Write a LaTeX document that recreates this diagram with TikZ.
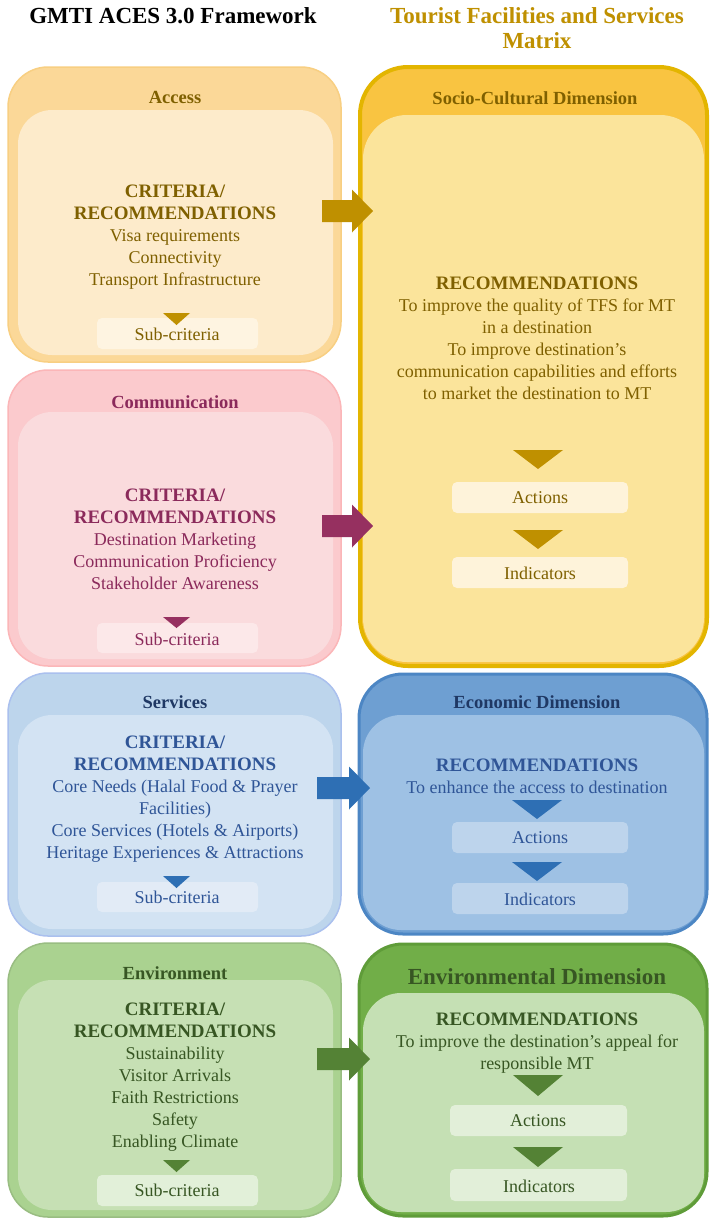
\documentclass[tikz,border=0pt]{standalone}
\usepackage{fontspec}
\setmainfont{Liberation Serif}
\newcommand{\hd}[1]{{\fontsize{19}{22}\selectfont\bfseries #1}}
\begin{document}
\begin{tikzpicture}[x=1pt,y=-1pt,
  lbl/.style={align=center,font=\fontsize{18}{22}\selectfont,inner sep=0pt},
  ttl/.style={font=\bfseries\fontsize{18.5}{20}\selectfont,inner sep=0pt},
  smalltxt/.style={font=\fontsize{18}{20}\selectfont,inner sep=0pt},
  bigradius/.style={rounded corners=40pt},
  midradius/.style={rounded corners=34pt},
  tagbox/.style={rounded corners=5pt}]

% page
\useasboundingbox (0,0) rectangle (710,1221);
\fill[white] (0,0) rectangle (710,1221);

% ---------- colours ----------
\definecolor{accOut}{HTML}{FBD898}
\definecolor{accEdge}{HTML}{F8CF82}
\definecolor{accIn}{HTML}{FDEBCB}
\definecolor{accTag}{HTML}{FEF4E1}
\definecolor{accTxt}{HTML}{7F6000}
\definecolor{gold}{HTML}{BF9000}

\definecolor{comOut}{HTML}{FBCACD}
\definecolor{comIn}{HTML}{FADBDD}
\definecolor{comTag}{HTML}{FCE8E9}
\definecolor{comTxt}{HTML}{8B2A5B}
\definecolor{plum}{HTML}{963060}

\definecolor{srvOut}{HTML}{BDD5EC}
\definecolor{srvIn}{HTML}{D3E3F3}
\definecolor{srvTag}{HTML}{E2EBF6}
\definecolor{srvTxt}{HTML}{2F5597}
\definecolor{srvHead}{HTML}{1F3864}
\definecolor{blueArr}{HTML}{2E6FB4}

\definecolor{envOut}{HTML}{AAD290}
\definecolor{envIn}{HTML}{C6E0B4}
\definecolor{envTag}{HTML}{E2F0D9}
\definecolor{envTxt}{HTML}{375623}
\definecolor{greenArr}{HTML}{548235}

\definecolor{socOut}{HTML}{F9C441}
\definecolor{socEdge}{HTML}{E3B500}
\definecolor{socIn}{HTML}{FBE49B}
\definecolor{socTag}{HTML}{FEF3DA}

\definecolor{ecoOut}{HTML}{6E9FD2}
\definecolor{ecoEdge}{HTML}{4C86C4}
\definecolor{ecoIn}{HTML}{9EC1E4}
\definecolor{ecoTag}{HTML}{BDD4EC}

\definecolor{evdOut}{HTML}{71AE48}
\definecolor{evdEdge}{HTML}{5F9C39}
\definecolor{evdIn}{HTML}{C5E0B4}
\definecolor{evdTag}{HTML}{E2EFD9}

% column headings
\node[font=\bfseries\fontsize{23}{25}\selectfont,inner sep=0pt] (hleft) at (173,16) {GMTI ACES 3.0 Framework};
\node[font=\bfseries\fontsize{23}{25}\selectfont,align=center,inner sep=0pt,text=gold] (hright) at (537,28) {Tourist Facilities and Services\\Matrix};

% ========== left column ==========
% Access
\filldraw[fill=accOut,draw=accEdge,line width=1.5pt,bigradius] (8,67) rectangle (341,362);
\fill[accIn,midradius] (18,110) rectangle (333,355);
\node[ttl,text=accTxt] (acct) at (175,97) {Access};
\node[lbl,text=accTxt] (accl) at (175,237) {\hd{CRITERIA/}\\\hd{RECOMMENDATIONS}\\Visa requirements\\Connectivity\\Transport Infrastructure};
\fill[accTag,tagbox] (97,318) rectangle (258,349);
\node[smalltxt,text=accTxt] (accs) at (177,334) {Sub-criteria};
\fill[gold] (163,313) -- (190,313) -- (176.5,325) -- cycle;

% Communication
\filldraw[fill=comOut,draw=comOut!90!red,line width=1.5pt,bigradius] (8,370) rectangle (341,666);
\fill[comIn,midradius] (18,412) rectangle (333,659);
\node[ttl,text=comTxt] (comt) at (175,402) {Communication};
\node[lbl,text=comTxt] (coml) at (175,539) {\hd{CRITERIA/}\\\hd{RECOMMENDATIONS}\\Destination Marketing\\Communication Proficiency\\Stakeholder Awareness};
\fill[comTag,tagbox] (97,623) rectangle (258,653);
\node[smalltxt,text=comTxt] (coms) at (177,639) {Sub-criteria};
\fill[plum] (163,617) -- (190,617) -- (176.5,628) -- cycle;

% Services
\filldraw[fill=srvOut,draw=srvOut!90!blue,line width=1.5pt,bigradius] (8,673) rectangle (341,936);
\fill[srvIn,midradius] (18,715) rectangle (333,929);
\node[ttl,text=srvHead] (srvt) at (175,702) {Services};
\node[lbl,text=srvTxt] (srvl) at (175,799) {\hd{CRITERIA/}\\\hd{RECOMMENDATIONS}\\Core Needs (Halal Food \& Prayer\\Facilities)\\Core Services (Hotels \& Airports)\\Heritage Experiences \& Attractions};
\fill[srvTag,tagbox] (97,882) rectangle (258,912);
\node[smalltxt,text=srvTxt] (srvs) at (177,897) {Sub-criteria};
\fill[blueArr] (163,876) -- (190,876) -- (176.5,888) -- cycle;

% Environment
\filldraw[fill=envOut,draw=envOut!90!black,line width=1.5pt,bigradius] (8,943) rectangle (341,1217);
\fill[envIn,midradius] (18,980) rectangle (333,1210);
\node[ttl,text=envTxt] (envt) at (175,973) {Environment};
\node[lbl,text=envTxt] (envl) at (175,1077) {\hd{CRITERIA/}\\\hd{RECOMMENDATIONS}\\Sustainability\\Visitor Arrivals\\Faith Restrictions\\Safety\\Enabling Climate};
\fill[envTag,tagbox] (97,1175) rectangle (258,1206);
\node[smalltxt,text=envTxt] (envs) at (177,1190) {Sub-criteria};
\fill[greenArr] (163,1160) -- (190,1160) -- (176.5,1172) -- cycle;

% ========== right column ==========
% Socio-Cultural Dimension
\filldraw[fill=socOut,draw=socEdge,line width=4pt,rounded corners=48pt] (360,67) rectangle (707,666);
\fill[socIn,rounded corners=44pt] (363,115) rectangle (704,662);
\node[ttl,text=accTxt] (soct) at (535,98) {Socio-Cultural Dimension};
\node[lbl,text=accTxt] (socl) at (537,338) {\hd{RECOMMENDATIONS}\\To improve the quality of TFS for MT\\in a destination\\To improve destination's\\communication capabilities and efforts\\to market the destination to MT};
\fill[socTag,tagbox] (452,482) rectangle (628,513);
\node[smalltxt,text=accTxt] (soca) at (540,498) {Actions};
\fill[socTag,tagbox] (452,557) rectangle (628,588);
\node[smalltxt,text=accTxt] (soci) at (540,573) {Indicators};
\fill[gold] (513,450) -- (563,450) -- (538,469) -- cycle;
\fill[gold] (513,530) -- (563,530) -- (538,549) -- cycle;

% Economic Dimension
\filldraw[fill=ecoOut,draw=ecoEdge,line width=3pt,rounded corners=44pt] (359,674) rectangle (707,934);
\fill[ecoIn,rounded corners=38pt] (363,715) rectangle (704,930);
\node[ttl,text=srvHead] (ecot) at (537,702) {Economic Dimension};
\node[lbl,text=srvTxt] (ecol) at (537,776) {\hd{RECOMMENDATIONS}\\To enhance the access to destination};
\fill[ecoTag,tagbox] (452,822) rectangle (628,853);
\node[smalltxt,text=srvTxt] (ecoa) at (540,838) {Actions};
\fill[ecoTag,tagbox] (452,883) rectangle (628,914);
\node[smalltxt,text=srvTxt] (ecoi) at (540,899) {Indicators};
\fill[blueArr] (512,800) -- (562,800) -- (537,819) -- cycle;
\fill[blueArr] (512,862) -- (562,862) -- (537,881) -- cycle;

% Environmental Dimension
\filldraw[fill=evdOut,draw=evdEdge,line width=3pt,rounded corners=44pt] (359,944) rectangle (707,1216);
\fill[evdIn,rounded corners=38pt] (363,993) rectangle (704,1212);
\node[font=\bfseries\fontsize{23}{25}\selectfont,inner sep=0pt,text=envTxt] (evdt) at (537,977) {Environmental Dimension};
\node[lbl,text=envTxt] (evdl) at (537,1043) {\hd{RECOMMENDATIONS}\\To improve the destination's appeal for\\responsible MT};
\fill[evdTag,tagbox] (450,1105) rectangle (627,1136);
\node[smalltxt,text=envTxt] (evda) at (538,1121) {Actions};
\fill[evdTag,tagbox] (450,1169) rectangle (627,1201);
\node[smalltxt,text=envTxt] (evdi) at (539,1186) {Indicators};
\fill[greenArr] (513,1075) -- (563,1075) -- (538,1096) -- cycle;
\fill[greenArr] (513,1147) -- (563,1147) -- (538,1167) -- cycle;

% ========== block arrows linking the columns ==========
\newcommand{\blockarrow}[4]{% colour, tail x, centre y, tip x
  \fill[#1] (#2,#3-11) -- (#4-21,#3-11) -- (#4-21,#3-21.5) -- (#4,#3)
     -- (#4-21,#3+21.5) -- (#4-21,#3+11) -- (#2,#3+11) -- cycle;}
\blockarrow{gold}{322}{211}{373}
\blockarrow{plum}{322}{526}{373}
\blockarrow{blueArr}{317}{788}{370}
\blockarrow{greenArr}{317}{1059}{370}
\end{tikzpicture}
\end{document}
